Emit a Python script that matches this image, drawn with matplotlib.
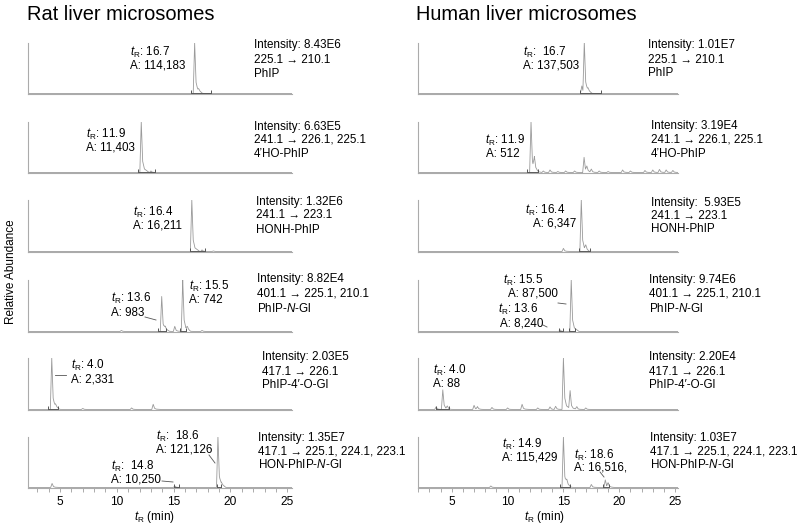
import matplotlib
matplotlib.use("Agg")
import matplotlib.pyplot as plt
from matplotlib.lines import Line2D
from matplotlib.ticker import MultipleLocator
import numpy as np

plt.rcParams['font.family'] = ['Liberation Sans', 'DejaVu Sans']
plt.rcParams['mathtext.fontset'] = 'custom'
plt.rcParams['mathtext.rm'] = 'Liberation Sans'
plt.rcParams['mathtext.it'] = 'Liberation Sans:italic'

# ---------------- data (retention time in min, relative height 0-1) ----------------
panel_titles = ["Rat liver microsomes", "Human liver microsomes"]

# Rat liver microsomes
rat_phip_t = [16.85, 17.2]
rat_phip_h = [1.0, 0.04]
rat_phip_int = [16.5, 18.3]

rat_4ho_t = [12.15, 13.0]
rat_4ho_h = [1.0, 0.03]
rat_4ho_int = [11.9, 13.4]

rat_honh_t = [16.6, 17.5, 18.5]
rat_honh_h = [1.0, 0.03, 0.01]
rat_honh_int = [16.45, 17.8]

rat_ngl_t = [10.4, 13.95, 14.25, 15.1, 15.8, 16.2, 17.5]
rat_ngl_h = [0.02, 0.68, 0.06, 0.1, 1.0, 0.05, 0.02]
rat_ngl_int = [13.6, 14.3, 15.55, 16.1]

rat_ogl_t = [4.27, 4.6, 7.0, 11.3, 13.2]
rat_ogl_h = [1.0, 0.05, 0.02, 0.03, 0.1]
rat_ogl_int = [3.95, 4.8]

rat_hon_t = [4.3, 15.1, 18.9, 19.2]
rat_hon_h = [0.08, 0.03, 1.0, 0.04]
rat_hon_int = [15.0, 15.5, 18.8, 19.2]

# Human liver microsomes
hum_phip_t = [16.65, 16.87, 17.2]
hum_phip_h = [0.15, 1.0, 0.05]
hum_phip_int = [16.5, 18.4]

hum_4ho_t = [12.1, 12.4, 13.2, 13.8, 14.5, 15.2, 16.0, 16.85, 17.1, 17.5, 18.2, 19.0,
             20.3, 21.0, 22.3, 23.0, 23.6, 24.2, 24.8]
hum_4ho_h = [1.0, 0.25, 0.03, 0.05, 0.02, 0.03, 0.03, 0.3, 0.1, 0.06, 0.03, 0.02,
             0.05, 0.03, 0.04, 0.05, 0.06, 0.05, 0.04]
hum_4ho_int = [11.7, 12.75]

hum_honh_t = [15.0, 16.6, 17.0]
hum_honh_h = [0.06, 1.0, 0.08]
hum_honh_int = [16.4, 17.4]

hum_ngl_t = [14.7, 15.7]
hum_ngl_h = [0.03, 1.0]
hum_ngl_int = [14.6, 15.0, 15.5, 16.0]

hum_ogl_t = [3.6, 4.2, 4.6, 7.0, 7.3, 8.6, 10.0, 11.3, 12.7, 13.8, 14.3, 15.0, 15.6, 16.2, 17.0]
hum_ogl_h = [0.05, 0.38, 0.05, 0.08, 0.05, 0.04, 0.03, 0.1, 0.03, 0.05, 0.06, 1.0, 0.35, 0.05, 0.03]
hum_ogl_int = [3.6, 4.8]

hum_hon_t = [8.5, 15.0, 15.3, 17.5, 18.75, 19.0]
hum_hon_h = [0.03, 1.0, 0.1, 0.06, 0.15, 0.08]
hum_hon_int = [14.7, 15.6, 18.5, 19.1]

rat_intensity = ["8.43E6", "6.63E5", "1.32E6", "8.82E4", "2.03E5", "1.35E7"]
hum_intensity = ["1.01E7", "3.19E4", " 5.93E5", "9.74E6", "2.20E4", "1.03E7"]
transitions = ["225.1 \u2192 210.1", "241.1 \u2192 226.1, 225.1", "241.1 \u2192 223.1",
               "401.1 \u2192 225.1, 210.1", "417.1 \u2192 226.1", "417.1 \u2192 225.1, 224.1, 223.1"]
analytes = ["PhIP", "4\u2019HO-PhIP", "HONH-PhIP", "PhIP-$N$-Gl", "PhIP-4\u2032-O-Gl", "HON-PhIP-$N$-Gl"]

x_ticks = [5, 10, 15, 20, 25]

rat_traces = [(rat_phip_t, rat_phip_h, rat_phip_int), (rat_4ho_t, rat_4ho_h, rat_4ho_int),
              (rat_honh_t, rat_honh_h, rat_honh_int), (rat_ngl_t, rat_ngl_h, rat_ngl_int),
              (rat_ogl_t, rat_ogl_h, rat_ogl_int), (rat_hon_t, rat_hon_h, rat_hon_int)]
hum_traces = [(hum_phip_t, hum_phip_h, hum_phip_int), (hum_4ho_t, hum_4ho_h, hum_4ho_int),
              (hum_honh_t, hum_honh_h, hum_honh_int), (hum_ngl_t, hum_ngl_h, hum_ngl_int),
              (hum_ogl_t, hum_ogl_h, hum_ogl_int), (hum_hon_t, hum_hon_h, hum_hon_int)]

# ---------------- layout ----------------
W, H = 800, 529
fig = plt.figure(figsize=(8, 5.29), dpi=100)
FS = 8.4
TRACE = '#9a9a9a'
SPINE = '#ababab'


def fx(x):
    return x / W


def fy(y):
    return 1 - y / H


def txt(x, y, s, size=FS, **kw):
    fig.text(fx(x), fy(y), s, fontsize=size, va='center', ha='left', **kw)


def leader(x1, y1, x2, y2):
    fig.add_artist(Line2D([fx(x1), fx(x2)], [fy(y1), fy(y2)], color='#555555', lw=0.6))


def build_trace(times, heights, xlim):
    pts_t, pts_y = [], []
    for t, h in zip(times, heights):
        w = 0.28
        pts_t.append([t - 0.45 * w, t, t + 0.45 * w, t + w, t + 2.5 * w])
        pts_y.append([0, h, 0.22 * h, 0.07 * h, 0])
    grid = np.unique(np.concatenate([np.array(p) for p in pts_t] + [np.array(xlim)]))
    y = np.zeros_like(grid)
    for pt, py in zip(pts_t, pts_y):
        y += np.interp(grid, pt, py, left=0, right=0)
    return grid, y


tops = [43, 122, 200, 280, 358, 437]
bottoms = [94, 173, 252, 332, 410, 488]
cols = [(28, 292, (2.18, 25.42)), (418, 678, (1.98, 25.26))]

for ci, traces in enumerate([rat_traces, hum_traces]):
    x0, x1, xlim = cols[ci]
    for ri, (tt, hh, integ) in enumerate(traces):
        ax = fig.add_axes([fx(x0), fy(bottoms[ri]), (x1 - x0) / W, (bottoms[ri] - tops[ri]) / H])
        gx, gy = build_trace(tt, hh, xlim)
        ax.plot(gx, gy, color=TRACE, lw=0.6)
        ax.vlines(integ, -0.06, 0.07, color='#555555', lw=0.7)
        for a, b in zip(integ[0::2], integ[1::2]):
            ax.hlines(0.005, a, b, color='#555555', lw=0.7)
        ax.set_xlim(*xlim)
        ax.set_ylim(-0.01, 1.0)
        ax.patch.set_visible(False)
        for s in ['top', 'right']:
            ax.spines[s].set_visible(False)
        for s in ['left', 'bottom']:
            ax.spines[s].set_color(SPINE)
            ax.spines[s].set_linewidth(0.8)
        ax.set_yticks([])
        if ri == 5:
            ax.set_xticks(x_ticks)
            ax.xaxis.set_minor_locator(MultipleLocator(1))
            ax.tick_params(axis='x', which='both', length=3, color=SPINE, width=0.7,
                           labelsize=8.6, pad=2.5)
        else:
            ax.set_xticks([])

# titles and axis labels
txt(27, 15, panel_titles[0], size=14.4)
txt(416, 15, panel_titles[1], size=14.4)
fig.text(fx(11), fy(272), "Relative Abundance", rotation=90, fontsize=8.5, va='center', ha='center')
fig.text(fx(154), fy(517), "$t_\\mathrm{R}$ (min)", fontsize=8.5, va='center', ha='center')
fig.text(fx(544), fy(517), "$t_\\mathrm{R}$ (min)", fontsize=8.5, va='center', ha='center')

# right-hand info blocks
rat_block = [(254, [45, 60, 74]), (254, [127, 140, 154]), (256, [202, 215, 230]),
             (257, [279, 294, 308]), (262, [357, 372, 385]), (258, [438, 451, 465])]
hum_block = [(648, [45, 60, 73]), (651, [126, 140, 154]), (651, [203, 216, 229]),
             (649, [280, 294, 308]), (649, [357, 372, 385]), (650, [438, 451, 465])]
for blocks, intens in [(rat_block, rat_intensity), (hum_block, hum_intensity)]:
    for i, (bx, ys) in enumerate(blocks):
        txt(bx, ys[0], "Intensity: " + intens[i])
        txt(bx, ys[1], transitions[i])
        txt(bx, ys[2], analytes[i])

TR = "$t_\\mathrm{R}$"
# peak labels - rat
txt(130, 52, TR + ": 16.7"); txt(130, 65, "A: 114,183")
txt(86, 134, TR + ": 11.9"); txt(86, 147, "A: 11,403")
txt(133, 212, TR + ": 16.4"); txt(133, 225, "A: 16,211")
txt(111, 298, TR + ": 13.6"); txt(111, 313, "A: 983")
leader(145, 317, 156, 320)
txt(189, 286, TR + ": 15.5"); txt(189, 300, "A: 742")
txt(71, 365, TR + ": 4.0"); txt(71, 380, "A: 2,331")
leader(55, 375, 66, 375)
txt(156, 436, TR + ":  18.6"); txt(156, 449, "A: 121,126")
leader(209, 455, 215, 463)
txt(111, 466, TR + ":  14.8"); txt(111, 479, "A: 10,250")
leader(162, 481, 173, 482)

# peak labels - human
txt(523, 52, TR + ":  16.7"); txt(523, 65, "A: 137,503")
txt(485, 140, TR + ": 11.9"); txt(486, 154, "A: 512")
txt(525, 210, TR + ": 16.4"); txt(533, 224, "A: 6,347")
txt(503, 280, TR + ": 15.5"); txt(508, 294, "A: 87,500")
leader(558, 303, 566, 304)
txt(498, 309, TR + ": 13.6"); txt(500, 323, "A: 8,240")
leader(543, 325, 547, 327)
txt(433, 370, TR + ": 4.0"); txt(433, 384, "A: 88")
txt(502, 444, TR + ": 14.9"); txt(502, 457, "A: 115,429")
txt(574, 455, TR + ": 18.6"); txt(574, 468, "A: 16,516,")
leader(600, 472, 604, 477)

fig.savefig("out.png", dpi=100)
